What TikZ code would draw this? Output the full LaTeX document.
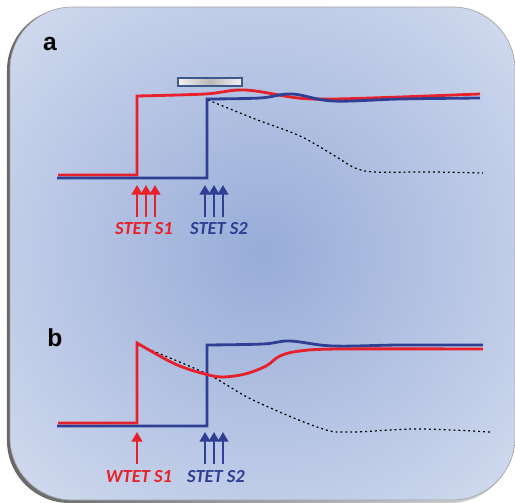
\documentclass[tikz,border=0pt]{standalone}
\usepackage{fontspec}
\setsansfont{Liberation Sans}
\newfontfamily\calib{Carlito}
\usetikzlibrary{arrows.meta}
\definecolor{tracered}{HTML}{E8202A}
\definecolor{traceblue}{HTML}{2E3F94}
\definecolor{glowin}{HTML}{97ACD8}
\definecolor{glowout}{HTML}{D3DCEF}
\definecolor{barrim}{HTML}{3D5A8A}
\pgfdeclareradialshading{panelglow}{\pgfpoint{0bp}{0bp}}{color(0bp)=(glowin); color(36bp)=(glowout); color(50bp)=(glowout)}
\begin{document}
\begin{tikzpicture}[x=0.02cm, y=-0.02cm,
  trace/.style={line width=1.6pt, line join=miter},
  dotcurve/.style={line width=0.7pt, dash pattern=on 1.1pt off 1.7pt},
  pulse/.style={line width=1.7pt, -{Triangle[width=6pt,length=5.5pt]}},
  stimlbl/.style={font=\calib\bfseries\itshape\fontsize{10.5}{12}\selectfont},
  panellbl/.style={font=\sffamily\bfseries\fontsize{14}{16}\selectfont}]
\useasboundingbox (0,0) rectangle (515,503);
% panel
\shade[left color=black!60, right color=black!15, rounded corners=1.25cm] (7,8) rectangle (513,503);
\shade[shading=panelglow, rounded corners=1.25cm] (10,7) rectangle (515,500);
\draw[black!35, line width=0.4pt, rounded corners=1.25cm] (10,7) rectangle (515,500);
\node[panellbl] (la) at (50,44) {a};
\node[panellbl] (lb) at (55,338) {b};
% panel a
\shade[left color=gray!10, right color=gray!10, middle color=gray!55, draw=barrim, line width=1pt] (178,78) rectangle (242,86);
\draw[dotcurve] plot[smooth, tension=0.5] coordinates {(208,100) (255,119) (300,136) (335,156) (355,168) (375,172) (433,172) (483,173)};
\draw[trace, tracered] (58,175) -- (137,175) -- (137,96) -- plot[smooth, tension=0.6] coordinates {(137,96) (205,94) (245,90) (298,98) (333,99) (400,97) (480,94)};
\draw[trace, traceblue] (57,178) -- (207,178) -- (207,99) -- plot[smooth, tension=0.6] coordinates {(207,99) (260,98) (292,94) (333,101) (400,99) (480,98)};
\node[stimlbl, text=tracered] (s1a) at (144,229) {STET S1};
\node[stimlbl, text=traceblue] (s2a) at (219,229) {STET S2};
\foreach \x in {137,146,155} \draw[pulse, tracered] (\x,217) -- (\x,185);
\foreach \x in {205,214,223} \draw[pulse, traceblue] (\x,217) -- (\x,185);
% panel b
\draw[dotcurve] plot[smooth, tension=0.6] coordinates {(138,345) (207,374) (253,400) (320,428) (350,432) (417,429) (490,432)};
\draw[trace, traceblue] (57,426) -- (207,426) -- (207,345) -- plot[smooth, tension=0.6] coordinates {(207,345) (263,344) (290,341) (333,346) (400,345) (483,345)};
\draw[trace, tracered] (58,423) -- (137,423) -- (137,343) -- plot[smooth, tension=0.6] coordinates {(137,343) (167,360) (185,368) (205,374) (222,377) (245,374) (266,366) (280,356) (300,351) (340,349) (483,349)};
\node[stimlbl, text=tracered] (s1b) at (139,477) {WTET S1};
\node[stimlbl, text=traceblue] (s2b) at (216,477) {STET S2};
\draw[pulse, tracered] (137,464) -- (137,432);
\foreach \x in {205,214,223} \draw[pulse, traceblue] (\x,464) -- (\x,432);
\end{tikzpicture}
\end{document}
